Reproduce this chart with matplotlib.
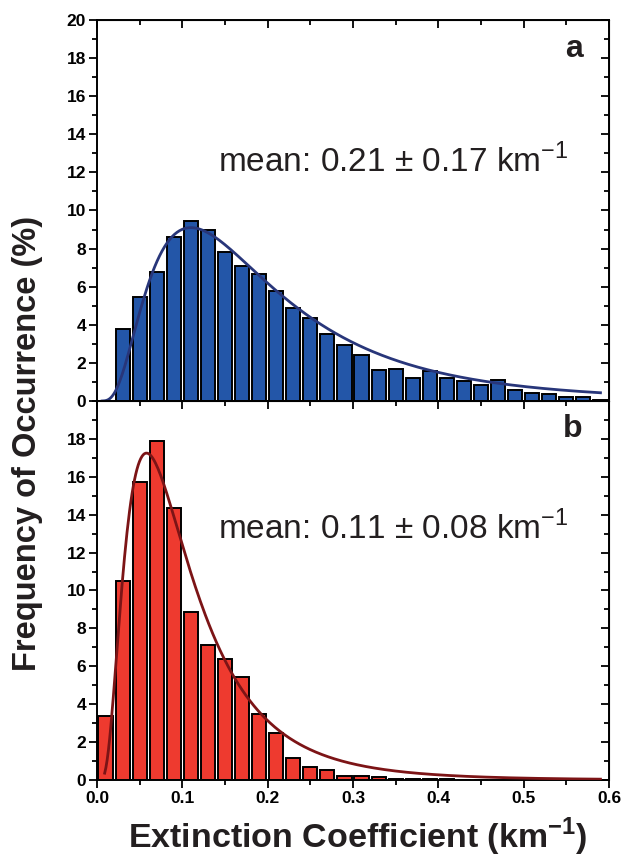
import numpy as np
import matplotlib
matplotlib.use("Agg")
import matplotlib.pyplot as plt
from matplotlib.ticker import MultipleLocator

plt.rcParams['font.family'] = ['Liberation Sans', 'DejaVu Sans']
plt.rcParams['mathtext.fontset'] = 'custom'
plt.rcParams['mathtext.rm'] = 'Liberation Sans'
plt.rcParams['mathtext.bf'] = 'Liberation Sans:bold'

# histogram bins (left edges, km^-1) and frequencies (%)
bin_width = 0.02
edges_a = np.arange(0.02, 0.60, bin_width)
freq_a = [3.8, 5.45, 6.75, 8.6, 9.45, 9.0, 7.8, 7.1, 6.65, 5.75,
          4.9, 4.35, 3.5, 2.95, 2.4, 1.65, 1.7, 1.2, 1.55, 1.2,
          1.05, 0.85, 1.1, 0.55, 0.4, 0.35, 0.2, 0.2, 0.07]

edges_b = np.arange(0.0, 0.46, bin_width)
freq_b = [3.4, 10.5, 15.7, 17.9, 14.35, 8.85, 7.1, 6.4, 5.45, 3.5,
          2.47, 1.15, 0.68, 0.52, 0.21, 0.21, 0.14, 0.05, 0.04, 0.03,
          0.03, 0.02, 0.02]

# lognormal fits: mode, sigma, peak height
fit_a = dict(mode=0.11, sigma=0.68, peak=9.1, xmin=0.006, xmax=0.59)
fit_b = dict(mode=0.058, sigma=0.67, peak=17.25, xmin=0.009, xmax=0.59)

means = ["mean: 0.21 \u00b1 0.17 km$^{-1}$", "mean: 0.11 \u00b1 0.08 km$^{-1}$"]
mean_y = [0.601, 0.636]
letters = ["a", "b"]
letter_y = [0.903, 0.905]

bar_colors = ["#2356a8", "#ee3a2f"]
line_colors = ["#28367a", "#7c1416"]
txt_color = '#231f20'


def lognorm_curve(mode, sigma, peak, xmin, xmax):
    x = np.linspace(xmin, xmax, 400)
    mu = np.log(mode) + sigma ** 2
    f = np.exp(-np.log(x) - (np.log(x) - mu) ** 2 / (2 * sigma ** 2))
    fm = np.exp(-np.log(mode) - (np.log(mode) - mu) ** 2 / (2 * sigma ** 2))
    return x, peak * f / fm


def set_ticks(axis_x, axis_y):
    axis_x.set_major_locator(MultipleLocator(0.1))
    axis_x.set_minor_locator(MultipleLocator(0.05))
    axis_y.set_major_locator(MultipleLocator(2))
    axis_y.set_minor_locator(MultipleLocator(1))


fig = plt.figure(figsize=(6.29, 8.61), dpi=100)
ax_a = fig.add_axes([0.1542, 0.5343, 0.814, 0.4425])
ax_b = fig.add_axes([0.1542, 0.0941, 0.814, 0.4402])

panels = [(ax_a, edges_a, freq_a, fit_a), (ax_b, edges_b, freq_b, fit_b)]
for i, (ax, edges, freq, fit) in enumerate(panels):
    ax.bar(edges + bin_width / 2, freq, width=0.0165, color=bar_colors[i],
           edgecolor='black', linewidth=1.4, zorder=2)
    x, y = lognorm_curve(**fit)
    ax.plot(x, y, color=line_colors[i], lw=2.0, zorder=3)

    ax.set_xlim(0, 0.6)
    ax.set_ylim(0, 20)
    set_ticks(ax.xaxis, ax.yaxis)
    ax.tick_params(which='both', direction='out', width=1.3,
                   top=False, right=False, labelsize=12.5, pad=2)
    ax.tick_params(which='major', length=6)
    ax.tick_params(which='minor', length=3.5)
    for lab in ax.get_xticklabels() + ax.get_yticklabels():
        lab.set_fontweight('bold')
    for sp in ax.spines.values():
        sp.set_linewidth(1.4)

    # inward ticks on the right and top edges
    sec_y = ax.secondary_yaxis('right')
    sec_x = ax.secondary_xaxis('top')
    set_ticks(sec_x.xaxis, sec_y.yaxis)
    sec_y.tick_params(which='both', direction='in', width=1.3, labelright=False)
    sec_x.tick_params(which='both', direction='in', width=1.3, labeltop=False)
    for sec in (sec_x, sec_y):
        sec.tick_params(which='major', length=6)
        sec.tick_params(which='minor', length=3.5)

    ax.text(0.578, mean_y[i], means[i], transform=ax.transAxes, fontsize=24,
            color=txt_color, ha='center', va='baseline')
    ax.text(0.949, letter_y[i], letters[i], transform=ax.transAxes,
            fontsize=23, fontweight='bold', color=txt_color,
            ha='right', va='baseline')

ax_a.tick_params(labelbottom=False)
ax_b.set_yticks(np.arange(0, 19, 2))

fig.text(0.569, 0.015, "Extinction Coefficient (km$^{\\mathbf{-1}}$)",
         fontsize=24.5, fontweight='bold', color=txt_color,
         ha='center', va='baseline')
fig.text(0.043, 0.485, "Frequency of Occurrence (%)", rotation=90,
         fontsize=23.5, fontweight='bold', color=txt_color,
         ha='center', va='center')

fig.savefig("out.png", dpi=100)
